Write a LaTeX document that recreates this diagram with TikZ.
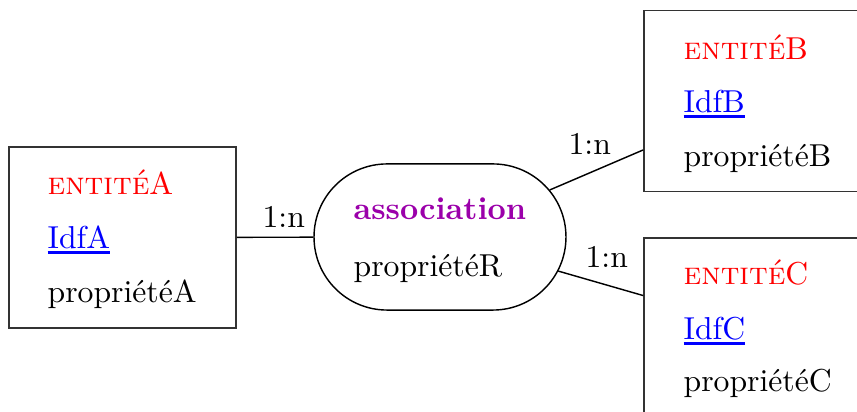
\documentclass[tikz,border=0pt]{standalone}
\usetikzlibrary{shapes.misc}
\definecolor{assoccol}{RGB}{155,0,170}
\newcommand\myidul[1]{\setbox0\hbox{#1}\rlap{\rule[-1.5pt]{\wd0}{0.9pt}}\box0}
\begin{document}
\begin{tikzpicture}[x=0.3155pt,y=-0.3155pt,
  entbox/.style={draw=black!80,line width=0.5pt,rectangle,inner sep=0pt,minimum width=71.6pt,minimum height=57pt},
  assocbox/.style={draw,line width=0.45pt,rounded rectangle,inner sep=0pt,minimum width=79.5pt,minimum height=46.1pt},
  txt/.style={anchor=base west,inner sep=0pt},
  card/.style={inner sep=0pt}]
\useasboundingbox (0,0) rectangle (857,412);
% entities
\node[entbox] (A) at (122.5,237.5) {};
\node[entbox] (B) at (757.5,101) {};
\node[entbox] (C) at (757.5,328.5) {};
% association
\node[assocbox] (R) at (440,237) {};
% texts
\node[txt,text=red] (tA1) at (47,195) {\textsc{entité}A};
\node[txt] (tA2) at (47,249) {\color{blue}\myidul{IdfA}};
\node[txt] (tA3) at (47,303) {propriétéA};
\node[txt,text=red] (tB1) at (683,60) {\textsc{entité}B};
\node[txt] (tB2) at (683,113) {\color{blue}\myidul{IdfB}};
\node[txt] (tB3) at (683,167) {propriétéB};
\node[txt,text=red] (tC1) at (683,285) {\textsc{entité}C};
\node[txt] (tC2) at (683,340) {\color{blue}\myidul{IdfC}};
\node[txt] (tC3) at (683,392) {propriétéC};
\node[txt,text=assoccol] (tR1) at (353,220) {\textbf{association}};
\node[txt] (tR2) at (353,277) {propriétéR};
% connectors
\draw[line width=0.45pt] (A) -- (R);
\draw[line width=0.45pt] (R) -- (B);
\draw[line width=0.45pt] (R) -- (C);
% cardinalities
\node[txt] (cA) at (262,228) {1:n};
\node[txt] (cB) at (568,155) {1:n};
\node[txt] (cC) at (585,268) {1:n};
\end{tikzpicture}
\end{document}
